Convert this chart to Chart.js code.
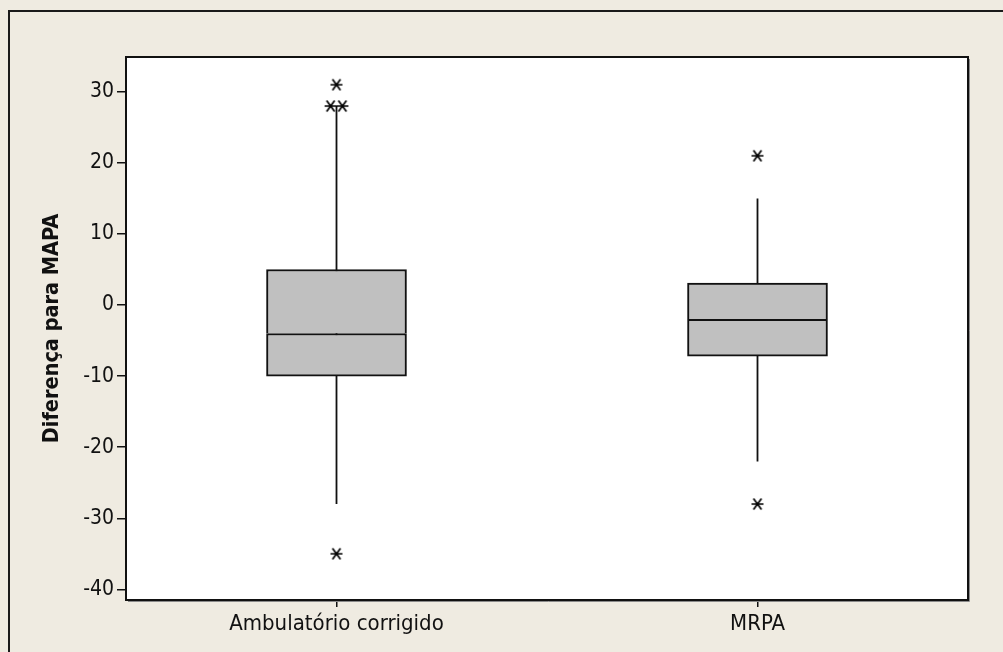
<!DOCTYPE html>
<html>
<head>
<meta charset="utf-8">
<script src="https://cdn.jsdelivr.net/npm/chart.js@4.4.1/dist/chart.umd.min.js"></script>
<style>
  html, body { margin: 0; padding: 0; background: #efebe1; overflow: hidden; }
  #wrap { width: 1003px; height: 652px; }
  #chart { display: block; }
</style>
</head>
<body>
<div id="wrap"><canvas id="chart" width="1003" height="652"></canvas></div>
<script>
// box plot values
const categories = ['Ambulatório corrigido', 'MRPA'];
const q1 = [-10, -7.2];
const medians = [-4, -2];
const q3 = [5, 3.1];
const whiskerLow = [-28, -22];
const whiskerHigh = [28, 15];
const outliers = [[31, 28, 28, -35], [21, -28]];
const yTicks = [-40, -30, -20, -10, 0, 10, 20, 30];

const FONT = "'DejaVu Sans Condensed', 'DejaVu Sans', sans-serif";
const BOX_FILL = '#c0c0c0';
const INK = '#111111';
const DUP_STEP = 0.028; // spacing of repeated outliers, in x units

// minitab style asterisk marker
function makeAsterisk() {
  const c = document.createElement('canvas');
  c.width = 14;
  c.height = 14;
  const ctx = c.getContext('2d');
  ctx.strokeStyle = '#000';
  ctx.lineWidth = 1.7;
  ctx.beginPath();
  ctx.moveTo(1, 7); ctx.lineTo(13, 7);
  ctx.moveTo(3, 1.5); ctx.lineTo(11, 12.5);
  ctx.moveTo(11, 1.5); ctx.lineTo(3, 12.5);
  ctx.stroke();
  return c;
}

function outlierPoints(values, x) {
  const count = {};
  values.forEach((v) => { count[v] = (count[v] || 0) + 1; });
  const used = {};
  return values.map((v) => {
    used[v] = (used[v] === undefined ? 0 : used[v] + 1);
    return { x: x + (used[v] - (count[v] - 1) / 2) * DUP_STEP, y: v };
  });
}

const frame = {
  id: 'frame',
  beforeDraw(chart) {
    const { ctx, chartArea: a } = chart;
    ctx.save();
    ctx.fillStyle = '#efebe1';
    ctx.fillRect(0, 0, chart.width, chart.height);
    // outer frame runs off the right and bottom edges
    ctx.fillStyle = '#1a1a1a';
    ctx.fillRect(8, 10, 2, chart.height - 10);
    ctx.fillRect(8, 10, chart.width - 8, 2);
    ctx.fillStyle = '#ffffff';
    ctx.fillRect(a.left, a.top, a.right - a.left, a.bottom - a.top);
    ctx.restore();
  },
  afterDraw(chart) {
    const { ctx, chartArea: a } = chart;
    ctx.save();
    ctx.strokeStyle = '#8a8a8a';
    ctx.lineWidth = 1;
    ctx.beginPath();
    ctx.moveTo(a.right + 1.5, a.top + 2);
    ctx.lineTo(a.right + 1.5, a.bottom + 1.5);
    ctx.lineTo(a.left + 2, a.bottom + 1.5);
    ctx.stroke();
    ctx.strokeStyle = INK;
    ctx.lineWidth = 2;
    ctx.strokeRect(a.left, a.top, a.right - a.left, a.bottom - a.top);
    ctx.restore();
  },
};

function buildDatasets() {
  const star = makeAsterisk();
  const datasets = [];
  categories.forEach((cat, i) => {
    const x = i + 1;
    datasets.push({
      type: 'line',
      data: [{ x, y: whiskerLow[i] }, { x, y: whiskerHigh[i] }],
      borderColor: INK,
      borderWidth: 1.8,
      pointRadius: 0,
      order: 3,
    });
  });
  // lower half of the box, its top edge is the median line
  datasets.push({
    type: 'bar',
    data: categories.map((c, i) => ({ x: i + 1, y: [q1[i], medians[i]] })),
    backgroundColor: BOX_FILL,
    borderColor: INK,
    borderWidth: { top: 2, left: 2, right: 2, bottom: 2 },
    borderSkipped: false,
    barThickness: 140,
    grouped: false,
    order: 2,
  });
  datasets.push({
    type: 'bar',
    data: categories.map((c, i) => ({ x: i + 1, y: [medians[i], q3[i]] })),
    backgroundColor: BOX_FILL,
    borderColor: INK,
    borderWidth: { top: 2, left: 2, right: 2, bottom: 0 },
    borderSkipped: false,
    barThickness: 140,
    grouped: false,
    order: 2,
  });
  categories.forEach((cat, i) => {
    datasets.push({
      type: 'line',
      data: outlierPoints(outliers[i], i + 1),
      showLine: false,
      pointStyle: star,
      pointRadius: 7,
      order: 1,
    });
  });
  return datasets;
}

Chart.defaults.font.family = FONT;
Chart.defaults.color = INK;

// eslint-disable-next-line no-undef, no-new
new Chart(document.getElementById('chart'), {
  type: 'bar',
  data: { datasets: buildDatasets() },
  plugins: [frame],
  options: {
    responsive: false,
    animation: false,
    devicePixelRatio: 1,
    layout: { padding: { top: 57, right: 35, left: 0, bottom: 0 } },
    plugins: {
      legend: { display: false },
      tooltip: { enabled: false },
    },
    scales: {
      x: {
        type: 'linear',
        min: 0.5,
        max: 2.5,
        offset: false,
        afterBuildTicks: (axis) => { axis.ticks = categories.map((c, i) => ({ value: i + 1 })); },
        afterFit: (axis) => { axis.height = 52; },
        ticks: {
          autoSkip: false,
          maxRotation: 0,
          padding: 4,
          color: INK,
          font: { size: 22 },
          callback: (value, index) => categories[index],
        },
        grid: {
          offset: false,
          drawOnChartArea: false,
          drawTicks: true,
          tickLength: 7,
          color: INK,
          lineWidth: 1.5,
        },
        border: { display: false },
      },
      y: {
        min: -41.5,
        max: 34.9,
        afterBuildTicks: (axis) => { axis.ticks = yTicks.map((v) => ({ value: v })); },
        afterFit: (axis) => { axis.width = 126; },
        ticks: {
          padding: 3,
          color: INK,
          font: { size: 21 },
          callback: (value) => String(value),
        },
        grid: {
          drawOnChartArea: false,
          drawTicks: true,
          tickLength: 9,
          color: INK,
          lineWidth: 1.5,
        },
        border: { display: false },
        title: {
          display: true,
          text: 'Diferença para MAPA',
          color: INK,
          font: { size: 21.5, weight: 'bold' },
          padding: { top: 40, bottom: 0 },
        },
      },
    },
  },
});
</script>
</body>
</html>
